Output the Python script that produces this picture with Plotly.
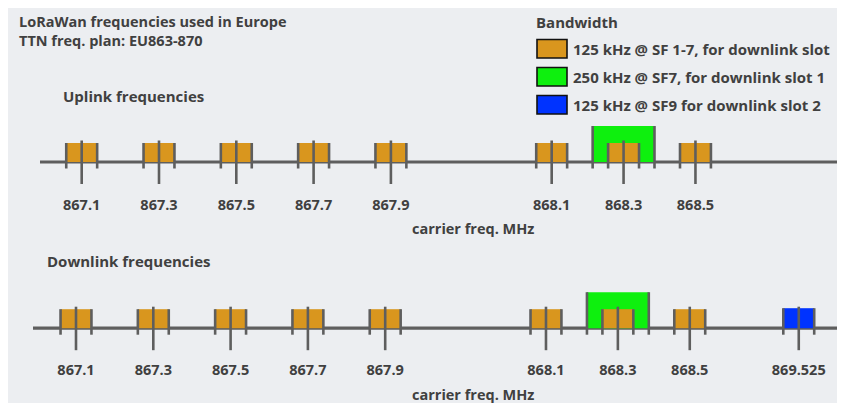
import numpy as np
import plotly.graph_objects as go

W, H = 845, 403
OX, OY = 8, 7.5  # page margin around the figure in the screenshot

# channels in MHz
uplink_125 = [867.1, 867.3, 867.5, 867.7, 867.9, 868.1, 868.3, 868.5]
uplink_250 = [868.3]
downlink_125 = [867.1, 867.3, 867.5, 867.7, 867.9, 868.1, 868.3, 868.5]
downlink_250 = [868.3]
downlink_rx2 = [869.525]

uplink_labels = ["867.1", "867.3", "867.5", "867.7", "867.9", "868.1", "868.3", "868.5"]
downlink_labels = uplink_labels + ["869.525"]

legend_labels = [
    "125 kHz @ SF 1-7, for downlink slot",
    "250 kHz @ SF7, for downlink slot 1",
    "125 kHz @ SF9 for downlink slot 2",
]

ORANGE = "#d9961e"
GREEN = "#0ef00e"
BLUE = "#0033ff"
TICK = "#5e5e5e"
TXT = "#404040"
BG = "#eceef1"
FONT = "Open Sans"
WEIGHT = "bold"

# the picture is not to scale: squeeze the gaps like a broken axis
BREAK_F = [867.1, 867.9, 868.1, 868.5, 869.525]
BREAK_S = [0, 4, 6.08, 7.94, 9.35]


def slot(freqs):
    return np.interp(freqs, BREAK_F, BREAK_S)


def half(bw):
    return bw * 0.0016  # half box width in slots


# y axis counts pixels up from the bottom of the figure
def yv(y):
    return H + OY - y


UP_Y = yv(161.5)
DN_Y = yv(327.7)
BOX_H = {125: 19, 250: 36, "rx2": 20}

fig = go.Figure()


def add_row(xaxis, base, groups):
    # groups: (freqs, bw, colour, height)
    for freqs, bw, color, h in groups:
        s = slot(freqs)
        fig.add_trace(go.Bar(
            x=s, y=[h] * len(s), base=base, width=2 * half(bw),
            marker=dict(color=color, line_width=0),
            xaxis=xaxis, yaxis="y", hoverinfo="skip", showlegend=False,
        ))
    # side lines of each box, then centre ticks
    lx, ly = [], []
    for freqs, bw, color, h in groups:
        for s in slot(freqs):
            for e in (s - half(bw), s + half(bw)):
                lx.extend([e, e, None])
                ly.extend([base + h, base - 6.5, None])
    centres = sorted(set(f for g in groups for f in g[0]))
    for s in slot(centres):
        lx.extend([s, s, None])
        ly.extend([base + 21.5, base - 22, None])
    fig.add_trace(go.Scatter(
        x=lx, y=ly, mode="lines", line=dict(color=TICK, width=2.6),
        xaxis=xaxis, yaxis="y", hoverinfo="skip", showlegend=False,
    ))


add_row("x", UP_Y, [
    (uplink_250, 250, GREEN, BOX_H[250]),
    (uplink_125, 125, ORANGE, BOX_H[125]),
])
add_row("x2", DN_Y, [
    (downlink_250, 250, GREEN, BOX_H[250]),
    (downlink_125, 125, ORANGE, BOX_H[125]),
    (downlink_rx2, 125, BLUE, BOX_H["rx2"]),
])

# frequency labels
tick_font = dict(family=FONT, size=14.5, color=TXT, weight=WEIGHT)
fig.add_trace(go.Scatter(
    x=slot(uplink_125), y=[UP_Y - 44.5] * len(uplink_labels), text=uplink_labels,
    mode="text", textfont=tick_font,
    xaxis="x", yaxis="y", hoverinfo="skip", showlegend=False,
))
down_all = downlink_125 + downlink_rx2
fig.add_trace(go.Scatter(
    x=slot(down_all), y=[DN_Y - 43.5] * len(downlink_labels), text=downlink_labels,
    mode="text", textfont=tick_font,
    xaxis="x2", yaxis="y", hoverinfo="skip", showlegend=False,
))


def px(x):
    return (x - OX) / W


def py(y):
    return 1 - (y - OY) / H


shapes = [
    # frequency axes
    dict(type="line", xref="paper", yref="y", x0=px(40), x1=px(839), y0=UP_Y, y1=UP_Y,
         line=dict(color=TICK, width=3.2), layer="below"),
    dict(type="line", xref="paper", yref="y", x0=px(33), x1=px(839), y0=DN_Y, y1=DN_Y,
         line=dict(color=TICK, width=3.2), layer="below"),
]

annotations = []


def label(text, x, y, size=15, anchor="left", align="left"):
    annotations.append(dict(
        text=text, x=px(x), y=py(y), xref="paper", yref="paper",
        xanchor=anchor, yanchor="middle", showarrow=False, align=align,
        font=dict(family=FONT, size=size, color=TXT, weight=WEIGHT),
    ))


label("LoRaWan frequencies used in Europe<br>TTN freq. plan: EU863-870", 17, 30, size=14.5)
label("Uplink frequencies", 61, 95)
label("Downlink frequencies", 45, 260)
label("Bandwidth", 534, 22)
label("carrier freq. MHz", 473, 228, anchor="center", size=14.5)
label("carrier freq. MHz", 473, 394, anchor="center", size=14.5)

legend_colors = [ORANGE, GREEN, BLUE]
for i, (txt, col) in enumerate(zip(legend_labels, legend_colors)):
    top = 39 + i * 28
    shapes.append(dict(type="rect", xref="paper", yref="paper",
                       x0=px(537), x1=px(567), y0=py(top + 18.5), y1=py(top),
                       fillcolor=col, line=dict(color="#111111", width=1.6)))
    label(txt, 571, top + 9.5)

up_rng = [(OX - 81.7) / 77.3, (OX + W - 81.7) / 77.3]
dn_rng = [(OX - 76) / 77.3, (OX + W - 76) / 77.3]
fig.update_layout(
    width=W, height=H, margin=dict(l=0, r=0, t=0, b=0),
    paper_bgcolor=BG, plot_bgcolor="rgba(0,0,0,0)",
    barmode="overlay", shapes=shapes, annotations=annotations,
    xaxis=dict(range=up_rng, visible=False, domain=[0, 1]),
    xaxis2=dict(range=dn_rng, visible=False, overlaying="x"),
    yaxis=dict(range=[0, H], visible=False),
)

fig.write_html("out.html")
